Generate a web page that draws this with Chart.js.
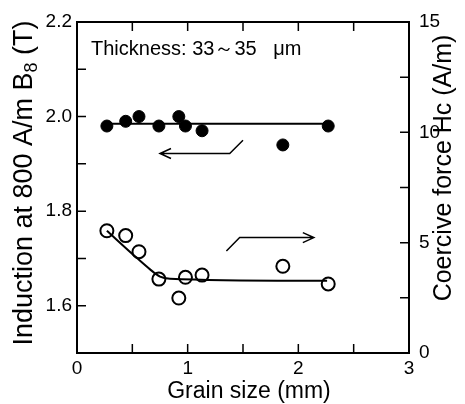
<!DOCTYPE html>
<html>
<head>
<meta charset="utf-8">
<script src="https://cdn.jsdelivr.net/npm/chart.js@4"></script>
<style>
  body { margin: 0; background: #fff; }
  #wrap { width: 465px; height: 404px; }
</style>
</head>
<body>
<div id="wrap"><canvas id="grainChart"></canvas></div>
<script>
// measured points
const grainSize = [0.27, 0.44, 0.56, 0.74, 0.92, 0.98, 1.13, 1.86, 2.27];
const inductionB8 = [1.98, 1.99, 2.00, 1.98, 2.00, 1.98, 1.97, 1.94, 1.98];
const coerciveHc = [5.54, 5.32, 4.59, 3.35, 2.49, 3.43, 3.53, 3.93, 3.13];

// hand drawn trend lines
const fitB8X = [0.27, 2.27];
const fitB8Y = [1.985, 1.985];
const fitHcX = [0.27, 0.52, 0.66, 0.75, 0.84, 2.26];
const fitHcY = [5.54, 4.40, 3.79, 3.46, 3.37, 3.27];

// arrows pointing to each axis (data coords)
const arrowLeftX = [1.50, 1.38, 0.75];
const arrowLeftY = [1.950, 1.922, 1.922];
const arrowRightX = [1.35, 1.47, 2.14];
const arrowRightY = [4.62, 5.23, 5.23];

const xTicks = [0, 1, 2, 3];
const fontFam = '"Liberation Sans", Arial, sans-serif';

function pts(xs, ys) {
  return xs.map((x, i) => ({ x: x, y: ys[i] }));
}

// inward tick marks on all four sides
const innerTicks = {
  id: 'innerTicks',
  afterDatasetsDraw(chart) {
    const { ctx, chartArea, scales } = chart;
    const len = 9;
    ctx.save();
    ctx.strokeStyle = '#000';
    ctx.lineWidth = 1.5;
    ctx.beginPath();
    scales.x.ticks.forEach(t => {
      const px = scales.x.getPixelForValue(t.value);
      ctx.moveTo(px, chartArea.bottom); ctx.lineTo(px, chartArea.bottom - len);
      ctx.moveTo(px, chartArea.top); ctx.lineTo(px, chartArea.top + len);
    });
    scales.y.ticks.forEach(t => {
      const py = scales.y.getPixelForValue(t.value);
      ctx.moveTo(chartArea.left, py); ctx.lineTo(chartArea.left + len, py);
    });
    scales.y2.ticks.forEach(t => {
      const py = scales.y2.getPixelForValue(t.value);
      ctx.moveTo(chartArea.right, py); ctx.lineTo(chartArea.right - len, py);
    });
    ctx.stroke();
    ctx.restore();
  }
};

const annotations = {
  id: 'annotations',
  afterDraw(chart) {
    const { ctx, chartArea, scales } = chart;
    const drawArrow = (xs, ys, yScale) => {
      const p = xs.map((x, i) => [scales.x.getPixelForValue(x), yScale.getPixelForValue(ys[i])]);
      ctx.save();
      ctx.strokeStyle = '#000';
      ctx.lineWidth = 1.5;
      ctx.beginPath();
      ctx.moveTo(p[0][0], p[0][1]);
      for (let i = 1; i < p.length; i++) ctx.lineTo(p[i][0], p[i][1]);
      const end = p[p.length - 1];
      const dir = Math.sign(end[0] - p[p.length - 2][0]);
      ctx.moveTo(end[0] - dir * 11, end[1] - 5);
      ctx.lineTo(end[0], end[1]);
      ctx.lineTo(end[0] - dir * 11, end[1] + 5);
      ctx.stroke();
      ctx.restore();
    };
    drawArrow(arrowLeftX, arrowLeftY, scales.y);
    drawArrow(arrowRightX, arrowRightY, scales.y2);

    ctx.save();
    ctx.fillStyle = '#000';
    ctx.font = '20px ' + fontFam;
    ctx.textAlign = 'left';
    ctx.textBaseline = 'alphabetic';
    ctx.fillText('Thickness: 33～35   μm', chartArea.left + 14, chartArea.top + 33);

    // x title
    ctx.font = '23px ' + fontFam;
    ctx.textAlign = 'center';
    ctx.fillText('Grain size (mm)', 249, 398);

    // left title with subscript
    ctx.save();
    ctx.translate(32, 183);
    ctx.rotate(-Math.PI / 2);
    const big = '27px ' + fontFam, small = '18px ' + fontFam;
    const a = 'Induction at 800 A/m B', b = '8', c = ' (T)';
    ctx.font = big; const wa = ctx.measureText(a).width; const wc = ctx.measureText(c).width;
    ctx.font = small; const wb = ctx.measureText(b).width;
    let sx = -(wa + wb + wc) / 2;
    ctx.textAlign = 'left';
    ctx.font = big; ctx.fillText(a, sx, 0);
    ctx.font = small; ctx.fillText(b, sx + wa, 5);
    ctx.font = big; ctx.fillText(c, sx + wa + wb, 0);
    ctx.restore();

    // right title
    ctx.save();
    ctx.translate(451, 168);
    ctx.rotate(-Math.PI / 2);
    ctx.font = '25px ' + fontFam;
    ctx.textAlign = 'center';
    ctx.fillText('Coercive force Hc (A/m)', 0, 0);
    ctx.restore();
    ctx.restore();
  }
};

const axisGrid = { drawOnChartArea: false, drawTicks: false };
const axisBorder = { color: '#000', width: 2 };
const tickFont = { family: fontFam, size: 19 };

new Chart(document.getElementById('grainChart').getContext('2d'), {
  type: 'scatter',
  data: {
    datasets: [
      {
        data: pts(fitB8X, fitB8Y), yAxisID: 'y', showLine: true,
        borderColor: '#000', borderWidth: 2, pointRadius: 0
      },
      {
        data: pts(fitHcX, fitHcY), yAxisID: 'y2', showLine: true,
        borderColor: '#000', borderWidth: 2, pointRadius: 0,
        cubicInterpolationMode: 'monotone'
      },
      {
        data: pts(grainSize, inductionB8), yAxisID: 'y',
        pointRadius: 6, backgroundColor: '#000', borderColor: '#000', borderWidth: 1
      },
      {
        data: pts(grainSize, coerciveHc), yAxisID: 'y2',
        pointRadius: 6.5, backgroundColor: '#fff', borderColor: '#000', borderWidth: 2
      }
    ]
  },
  options: {
    responsive: true,
    maintainAspectRatio: false,
    animation: false,
    layout: { padding: { top: 22, left: 0, right: 0, bottom: 0 } },
    plugins: { legend: { display: false }, tooltip: { enabled: false } },
    scales: {
      x: {
        type: 'linear', position: 'bottom', min: 0, max: 3,
        grid: axisGrid, border: axisBorder,
        ticks: {
          stepSize: 0.5, color: '#000', font: tickFont, padding: 4, maxRotation: 0,
          callback: v => xTicks.includes(v) ? String(v) : ''
        },
        afterFit: s => { s.height = 51; }
      },
      x2: {
        type: 'linear', position: 'top', min: 0, max: 3,
        grid: axisGrid, border: axisBorder,
        ticks: { stepSize: 0.5, callback: () => '' },
        afterFit: s => { s.height = 0; }
      },
      y: {
        position: 'left', min: 1.5, max: 2.2,
        grid: axisGrid, border: axisBorder,
        ticks: {
          stepSize: 0.1, color: '#000', font: tickFont, padding: 5,
          callback: v => {
            const t = Math.round(v * 10);
            return (t % 2 === 0 && t >= 16) ? (t / 10).toFixed(1) : '';
          }
        },
        afterFit: s => { s.width = 77; }
      },
      y2: {
        position: 'right', min: 0, max: 15,
        grid: axisGrid, border: axisBorder,
        ticks: {
          stepSize: 2.5, color: '#000', font: tickFont, padding: 10,
          callback: v => (v % 5 === 0) ? String(v) : ''
        },
        afterFit: s => { s.width = 56; }
      }
    }
  },
  plugins: [innerTicks, annotations]
});
</script>
</body>
</html>
